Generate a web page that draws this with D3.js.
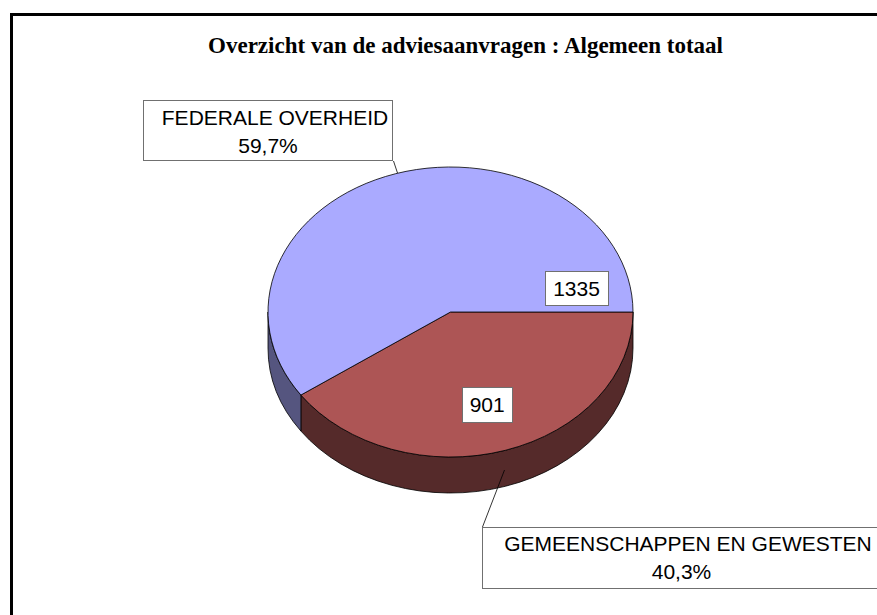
<!DOCTYPE html>
<html><head><meta charset="utf-8">
<script src="https://cdn.jsdelivr.net/npm/d3@7"></script>
<style>body{margin:0;background:#fff}svg{display:block}</style>
</head><body>
<script>
const title = "Overzicht van de adviesaanvragen : Algemeen totaal";
const categories = ["GEMEENSCHAPPEN EN GEWESTEN", "FEDERALE OVERHEID"];
const values = [901, 1335];
const percentLabels = ["40,3%", "59,7%"];
const topColors = ["#AD5555", "#AAAAFF"];
const sideColors = ["#552A2A", "#55557F"];

const W = 877, H = 615;
const svg = d3.select("body").append("svg").attr("width", W).attr("height", H);

// chart border (clipped at right/bottom)
svg.append("rect").attr("x", 11.5).attr("y", 14.5).attr("width", 900).attr("height", 700)
  .attr("fill", "none").attr("stroke", "#000").attr("stroke-width", 3);

svg.append("text").attr("x", 465.5).attr("y", 53).attr("text-anchor", "middle")
  .attr("font-family", "'Liberation Serif','Times New Roman',serif").attr("font-weight", "bold")
  .attr("font-size", 23).text(title);

const cx = 450.5, cy = 312, rx = 182.5, ry = 145, depth = 36;
const pie = d3.pie().sort(null).startAngle(Math.PI / 2).endAngle(Math.PI / 2 + 2 * Math.PI);
const arcs = pie(values);
// screen angle measured clockwise from east
const th = a => a - Math.PI / 2;
const pt = (t, dy = 0) => [cx + rx * Math.cos(t), cy + ry * Math.sin(t) + dy];

const g = svg.append("g");
// side walls (front half: 0..PI)
arcs.forEach((d, i) => {
  const segs = [];
  const t0 = th(d.startAngle), t1 = th(d.endAngle);
  [[0, Math.PI], [2 * Math.PI, 3 * Math.PI]].forEach(([lo, hi]) => {
    const a = Math.max(t0, lo), b = Math.min(t1, hi);
    if (b > a) segs.push([a, b]);
  });
  segs.forEach(([a, b]) => {
    const p0 = pt(a), p1 = pt(b), q1 = pt(b, depth), q0 = pt(a, depth);
    const large = (b - a) > Math.PI ? 1 : 0;
    const path = `M${p0}A${rx},${ry} 0 ${large} 1 ${p1}L${q1}A${rx},${ry} 0 ${large} 0 ${q0}Z`;
    g.append("path").attr("d", path).attr("fill", sideColors[i])
      .attr("stroke", "#000").attr("stroke-width", 0.8).attr("stroke-linejoin", "round");
  });
});
// top faces
arcs.forEach((d, i) => {
  const t0 = th(d.startAngle), t1 = th(d.endAngle);
  const large = (t1 - t0) > Math.PI ? 1 : 0;
  const path = `M${cx},${cy}L${pt(t0)}A${rx},${ry} 0 ${large} 1 ${pt(t1)}Z`;
  g.append("path").attr("d", path).attr("fill", topColors[i])
    .attr("stroke", "#000").attr("stroke-width", 0.8).attr("stroke-linejoin", "round");
});

const font = "'Liberation Sans',Arial,sans-serif";
function boxLabel(x, y, lines, lineH, box) {
  const grp = svg.append("g");
  grp.append("rect").attr("fill", "#fff").attr("stroke", "#707070").attr("stroke-width", 1)
    .attr("x", box[0]).attr("y", box[1]).attr("width", box[2]).attr("height", box[3]);
  lines.forEach((l, k) => grp.append("text").attr("x", l.x != null ? l.x : x)
    .attr("y", y + k * lineH).attr("text-anchor", "middle").attr("font-family", font)
    .attr("font-size", 21).attr("fill", "#000").text(l.t));
  return grp;
}

// value labels
const k = 0.67;
const mid0 = th((arcs[0].startAngle + arcs[0].endAngle) / 2);
const v0 = [cx + k * rx * Math.cos(mid0), cy + k * ry * Math.sin(mid0)];
boxLabel(v0[0], v0[1] + 7.5, [{t: String(values[0])}], 0, [462.5, 387.5, 50, 35]);
boxLabel(576.5, 295.5, [{t: String(values[1])}], 0, [545.5, 271.5, 63, 34]);

// leader lines
svg.append("line").attr("x1", 393.5).attr("y1", 161).attr("x2", 397.5).attr("y2", 173)
  .attr("stroke", "#000").attr("stroke-width", 0.8);
svg.append("line").attr("x1", 482.5).attr("y1", 527).attr("x2", 504.5).attr("y2", 470)
  .attr("stroke", "#000").attr("stroke-width", 0.8);

// category labels
boxLabel(268, 125, [{t: categories[1], x: 275}, {t: percentLabels[1]}], 27.5, [143.5, 100.5, 249, 60]);
boxLabel(688, 551, [{t: categories[0]}, {t: percentLabels[0], x: 681.5}], 27.5, [482.5, 527.5, 420, 61]);
</script>
</body></html>
